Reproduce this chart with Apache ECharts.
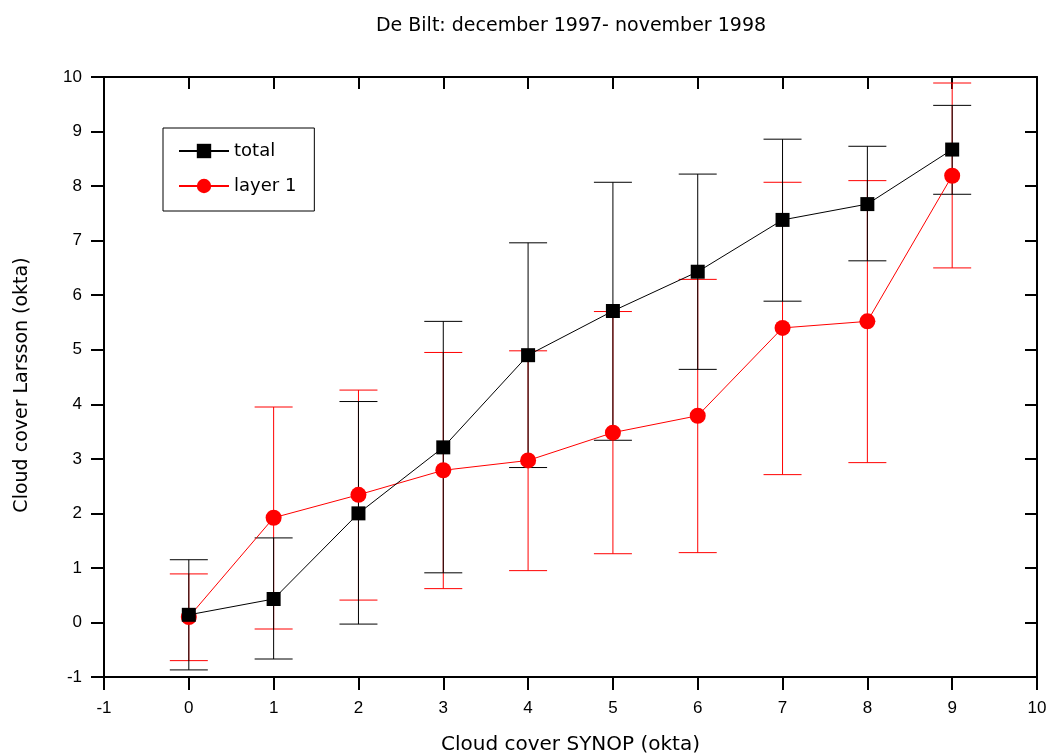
<!DOCTYPE html>
<html>
<head>
<meta charset="utf-8">
<script src="https://cdn.jsdelivr.net/npm/echarts@6/dist/echarts.min.js"></script>
<style>
  html, body { margin: 0; padding: 0; background: #fff; }
  #chart { width: 1048px; height: 756px; }
</style>
</head>
<body>
<div id="chart"></div>
<script>
// Cloud cover SYNOP (okta) classes
const synop = [0, 1, 2, 3, 4, 5, 6, 7, 8, 9];

// total cloud cover (Larsson): mean and error bar ends
const totalMean  = [0.14, 0.43, 2.00, 3.21, 4.90, 5.71, 6.43, 7.38, 7.67, 8.67];
const totalUpper = [1.15, 1.55, 4.05, 5.52, 6.96, 8.07, 8.22, 8.86, 8.73, 9.48];
const totalLower = [-0.87, -0.67, -0.03, 0.91, 2.84, 3.34, 4.64, 5.89, 6.63, 7.85];

// first layer cloud cover (Larsson): mean and error bar ends
const layerMean  = [0.10, 1.92, 2.34, 2.79, 2.97, 3.48, 3.79, 5.40, 5.52, 8.19];
const layerUpper = [0.89, 3.95, 4.26, 4.95, 4.98, 5.70, 6.29, 8.07, 8.10, 9.89];
const layerLower = [-0.70, -0.12, 0.41, 0.62, 0.95, 1.26, 1.28, 2.71, 2.93, 6.50];

const seriesNames = ['total', 'layer 1'];
const titleText = 'De Bilt: december 1997- november 1998';
const xName = 'Cloud cover SYNOP (okta)';
const yName = 'Cloud cover Larsson (okta)';

const chart = echarts.init(document.getElementById('chart'));

function errorBars(color) {
  return function (params, api) {
    const x = api.value(0);
    const top = api.coord([x, api.value(2)]);
    const bot = api.coord([x, api.value(1)]);
    const hw = 19;
    const style = { stroke: color, lineWidth: 1 };
    return {
      type: 'group',
      children: [
        { type: 'line', shape: { x1: top[0], y1: top[1], x2: bot[0], y2: bot[1] }, style: style },
        { type: 'line', shape: { x1: top[0] - hw, y1: top[1], x2: top[0] + hw, y2: top[1] }, style: style },
        { type: 'line', shape: { x1: bot[0] - hw, y1: bot[1], x2: bot[0] + hw, y2: bot[1] }, style: style }
      ]
    };
  };
}

const numFont = 'Liberation Sans, Arial, sans-serif';
const textFont = 'DejaVu Sans, sans-serif';
const axisLine = { show: true, onZero: false, lineStyle: { color: '#000', width: 2 } };
const tickStyle = { color: '#000', width: 2 };

const option = {
  animation: false,
  backgroundColor: '#fff',
  title: {
    text: titleText,
    left: 566,
    top: 12,
    textAlign: 'center',
    textStyle: { fontFamily: textFont, fontSize: 19, fontWeight: 'normal', color: '#000' }
  },
  legend: {
    data: seriesNames,
    orient: 'vertical',
    left: 163,
    top: 128,
    padding: [14, 18, 16, 15],
    itemWidth: 50,
    itemHeight: 18,
    itemGap: 17,
    borderColor: '#000',
    borderWidth: 1,
    textStyle: { fontFamily: textFont, fontSize: 18, color: '#000' }
  },
  grid: { left: 104, right: 11, top: 77, bottom: 79, containLabel: false, outerBoundsMode: 'none' },
  xAxis: [
    {
      type: 'value', min: -1, max: 10, interval: 1,
      name: xName, nameLocation: 'middle', nameGap: 58,
      nameTextStyle: { fontFamily: textFont, fontSize: 20, color: '#000' },
      axisLine: axisLine,
      axisTick: { show: true, inside: false, length: 13, lineStyle: tickStyle },
      axisLabel: { fontFamily: numFont, fontSize: 17, color: '#000', margin: 23 },
      splitLine: { show: false }
    },
    {
      type: 'value', min: -1, max: 10, interval: 1, position: 'top',
      axisLine: axisLine,
      axisTick: { show: true, inside: true, length: 12, lineStyle: tickStyle },
      axisLabel: { show: false },
      splitLine: { show: false }
    }
  ],
  yAxis: [
    {
      type: 'value', min: -1, max: 10, interval: 1,
      name: yName, nameLocation: 'middle', nameGap: 72, nameRotate: 90,
      nameTextStyle: { fontFamily: textFont, fontSize: 19, color: '#000', padding: [0, 16, 0, 0] },
      axisLine: axisLine,
      axisTick: { show: true, inside: false, length: 13, lineStyle: tickStyle },
      axisLabel: { fontFamily: numFont, fontSize: 17, color: '#000', margin: 22 },
      splitLine: { show: false }
    },
    {
      type: 'value', min: -1, max: 10, interval: 1, position: 'right',
      axisLine: axisLine,
      axisTick: { show: true, inside: true, length: 12, lineStyle: tickStyle },
      axisLabel: { show: false },
      splitLine: { show: false }
    }
  ],
  series: [
    {
      name: 'layer 1 range', type: 'custom',
      renderItem: errorBars('#ff0000'),
      data: synop.map((x, i) => [x, layerLower[i], layerUpper[i]]),
      encode: { x: 0, y: [1, 2] },
      z: 1
    },
    {
      name: 'total range', type: 'custom',
      renderItem: errorBars('#000000'),
      data: synop.map((x, i) => [x, totalLower[i], totalUpper[i]]),
      encode: { x: 0, y: [1, 2] },
      z: 1
    },
    {
      name: 'layer 1', type: 'line',
      data: synop.map((x, i) => [x, layerMean[i]]),
      symbol: 'circle', symbolSize: 16,
      lineStyle: { color: '#ff0000', width: 1 },
      itemStyle: { color: '#ff0000' },
      z: 3
    },
    {
      name: 'total', type: 'line',
      data: synop.map((x, i) => [x, totalMean[i]]),
      symbol: 'rect', symbolSize: 14,
      lineStyle: { color: '#000000', width: 1 },
      itemStyle: { color: '#000000' },
      z: 4
    }
  ]
};

chart.setOption(option);
</script>
</body>
</html>
